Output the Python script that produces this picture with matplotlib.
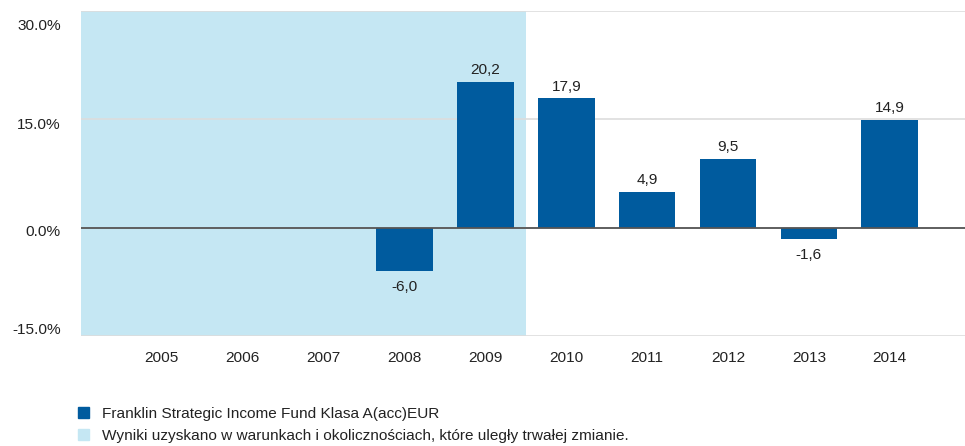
import numpy as np
import matplotlib.pyplot as plt
import matplotlib.transforms as mtransforms
from matplotlib.patches import Patch

plt.rcParams['font.family'] = ['Liberation Sans', 'DejaVu Sans']

years = ['2005', '2006', '2007', '2008', '2009', '2010', '2011', '2012', '2013', '2014']
returns = [np.nan, np.nan, np.nan, -6.0, 20.2, 17.9, 4.9, 9.5, -1.6, 14.9]
y_ticks = [-15, 0, 15, 30]
fund_name = 'Franklin Strategic Income Fund Klasa A(acc)EUR'
shade_note = 'Wyniki uzyskano w warunkach i okolicznościach, które uległy trwałej zmianie.'
shade_until = '2009'

bar_color = '#005B9E'
shade_color = '#C5E7F3'
fs = 11.1

fig = plt.figure(figsize=(9.65, 4.46), dpi=100)
ax = fig.add_axes([81 / 965, 1 - 336 / 446, 1 - 81 / 965, 325 / 446])

x = np.arange(len(years))
ax.set_xlim(-1.0, len(years) - 0.07)
ax.set_ylim(y_ticks[0], y_ticks[-1])

# shaded period (past performance under changed conditions)
ax.axvspan(-1.0, years.index(shade_until) + 0.5, color=shade_color, zorder=0.5, lw=0)

ax.set_yticks(y_ticks)
ax.set_yticklabels([f'{v:.1f}%' for v in y_ticks])
ax.grid(axis='y', color='#DDDDDD', lw=1.2, zorder=1)
ax.axhline(0, color='#555555', lw=1.3, zorder=3)

ax.bar(x, returns, width=0.7, color=bar_color, zorder=2)
for xi, v in zip(x, returns):
    if np.isnan(v):
        continue
    label = f'{v:.1f}'.replace('.', ',')
    if v >= 0:
        ax.annotate(label, (xi, v), xytext=(0, 3.5), textcoords='offset points',
                    ha='center', va='bottom', fontsize=fs, color='#222222')
    else:
        ax.annotate(label, (xi, v), xytext=(0, -6.5), textcoords='offset points',
                    ha='center', va='top', fontsize=fs, color='#222222')

ax.set_xticks(x)
ax.set_xticklabels(years)
ax.tick_params(axis='both', length=0, labelsize=fs, labelcolor='#222222')
ax.tick_params(axis='y', pad=14.4)
ax.tick_params(axis='x', pad=11)
for s in ax.spines.values():
    s.set_visible(False)

# y labels sit a little off their gridlines, kept inside the frame
shifts = {-15: 7, 0: -3, 15: -4, 30: -13}
for val, lab in zip(y_ticks, ax.get_yticklabels()):
    lab.set_transform(lab.get_transform() +
                      mtransforms.ScaledTranslation(0, shifts[val] / 100, fig.dpi_scale_trans))

handles = [Patch(color=bar_color), Patch(color=shade_color)]
fig.legend(handles, [fund_name, shade_note], loc='upper left',
           bbox_to_anchor=(78 / 965, 1 - 407 / 446), frameon=False, fontsize=fs,
           labelcolor='#222222',
           handlelength=0.72, handleheight=0.72, handletextpad=0.85,
           labelspacing=0.5, borderpad=0, borderaxespad=0)

fig.savefig('out.png', dpi=100)
